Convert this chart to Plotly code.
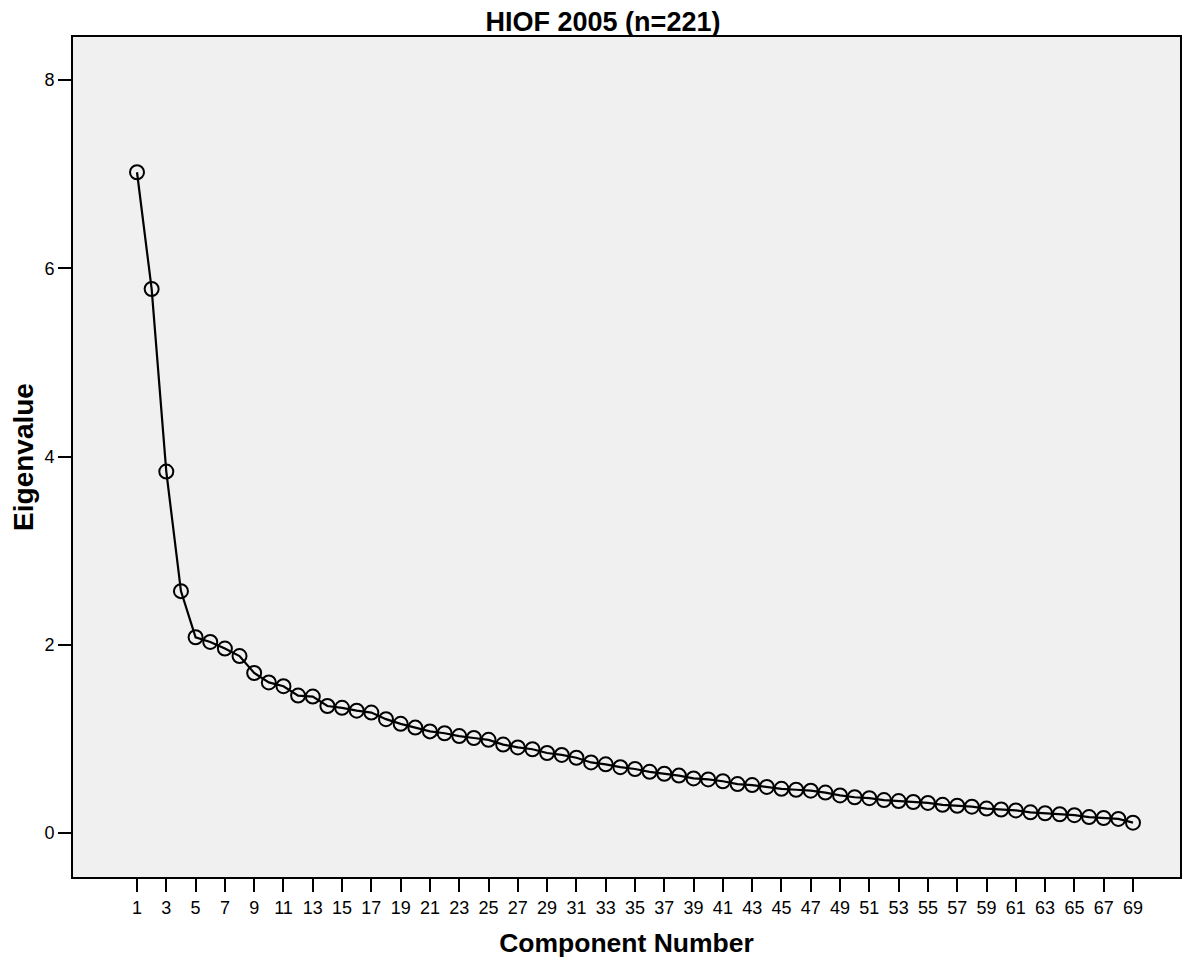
import plotly.graph_objects as go

title_text = "HIOF 2005 (n=221)"
x_label = "Component Number"
y_label = "Eigenvalue"

components = list(range(1, 70))
eigenvalues = [
    7.02, 5.78, 3.84, 2.57, 2.08, 2.03, 1.96, 1.88, 1.70, 1.60,
    1.56, 1.46, 1.45, 1.35, 1.33, 1.30, 1.28, 1.21, 1.16, 1.12,
    1.08, 1.06, 1.03, 1.01, 0.99, 0.94, 0.91, 0.89, 0.85, 0.83,
    0.80, 0.75, 0.73, 0.70, 0.68, 0.65, 0.63, 0.61, 0.58, 0.57,
    0.55, 0.52, 0.51, 0.49, 0.47, 0.46, 0.45, 0.43, 0.40, 0.38,
    0.37, 0.35, 0.34, 0.33, 0.32, 0.30, 0.29, 0.28, 0.26, 0.25,
    0.24, 0.22, 0.21, 0.20, 0.19, 0.17, 0.16, 0.15, 0.11,
]
y_ticks = [0, 2, 4, 6, 8]
x_ticks = list(range(1, 70, 2))

fig = go.Figure()
fig.add_trace(go.Scatter(
    x=components, y=eigenvalues, mode="lines+markers",
    line=dict(color="black", width=2.2),
    marker=dict(symbol="circle-open", size=14, color="black", line=dict(width=2, color="black")),
    showlegend=False, hoverinfo="x+y",
))

font_family = "Liberation Sans, Arial, sans-serif"
fig.update_layout(
    width=1190, height=953,
    margin=dict(l=65, r=18, t=29, b=84, autoexpand=False),
    paper_bgcolor="white",
    plot_bgcolor="#F0F0F0",
    font=dict(family=font_family, size=18, color="black"),
    title=dict(text="<b>" + title_text + "</b>", x=0.5, xref="container", xanchor="center",
               y=1 - 14 / 953, yref="container", yanchor="middle",
               font=dict(size=27, family=font_family, color="black")),
)
fig.update_xaxes(
    range=[-3.37, 72.21],
    tickmode="array", tickvals=x_ticks, ticktext=[str(v) for v in x_ticks],
    ticks="outside", ticklen=13, tickwidth=2, tickcolor="black",
    showline=True, linecolor="black", linewidth=2, mirror=True,
    showgrid=False, zeroline=False, automargin=False,
    tickfont=dict(size=18),
    title=dict(text="<b>" + x_label + "</b>", font=dict(size=26.5), standoff=17),
)
fig.update_yaxes(
    range=[-0.467, 8.457],
    tickmode="array", tickvals=y_ticks, ticktext=[str(v) for v in y_ticks],
    ticks="outside", ticklen=13, tickwidth=2, tickcolor="black",
    showline=True, linecolor="black", linewidth=2, mirror=True,
    showgrid=False, zeroline=False, automargin=False,
    tickfont=dict(size=18),
    title=dict(text="<b>" + y_label + "</b>", font=dict(size=28), standoff=3),
)

fig.write_html("out.html")
